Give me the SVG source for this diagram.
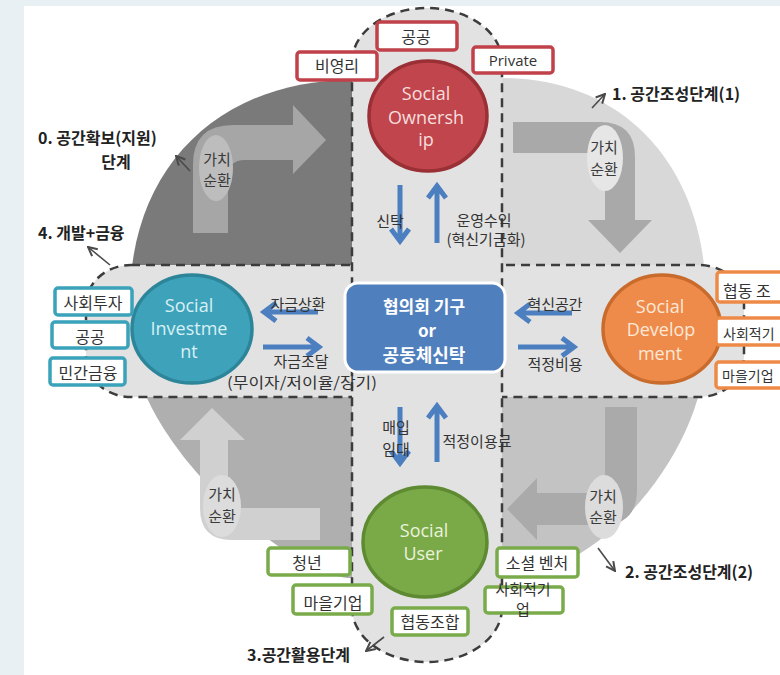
<svg xmlns="http://www.w3.org/2000/svg" width="780" height="675" viewBox="0 0 780 675">
<style>
.lbl{font-family:'Noto Sans CJK KR',sans-serif;font-size:15px;fill:#333;text-anchor:middle;}
.stage{font-family:'Noto Sans CJK KR',sans-serif;font-size:16px;font-weight:bold;fill:#222;}
.cyc{font-family:'Noto Sans CJK KR',sans-serif;font-size:15px;fill:#3a3a3a;text-anchor:middle;}
.box{fill:#fff;stroke-width:3.5;}
.red{stroke:#c0414a}
.teal{stroke:#3aa3bb}
.org{stroke:#ee8a48}
.grn{stroke:#7aab4a}
.bt{font-family:'Noto Sans CJK KR',sans-serif;font-size:16px;fill:#333;text-anchor:middle;}
.ct{font-family:'Open Sans','Noto Sans',sans-serif;font-size:18px;text-anchor:middle;}
.dash{fill:#e2e2e2;stroke:#3c3c3c;stroke-width:2.5;stroke-dasharray:9 6;}
.ba{fill:none;stroke:#4b7fc0;stroke-width:5;}
.sa{fill:none;stroke:#4a4a4a;stroke-width:1.6;marker-end:url(#sh);}
.hub{font-family:'Noto Sans CJK KR',sans-serif;font-weight:bold;fill:#fff;text-anchor:middle;}
</style>
<defs>
<marker id="sh" viewBox="0 0 10 10" refX="9" refY="5" markerWidth="7" markerHeight="7" orient="auto"><path d="M1,1 L9,5 L1,9" fill="none" stroke="#4a4a4a" stroke-width="1.8"/></marker>
</defs>
<rect x="0" y="0" width="780" height="675" fill="#e8f0f4"/>
<rect x="24" y="6" width="756" height="669" fill="#ffffff"/>

<g id="quadrants">
<path d="M427,331 L130,331 L130,300 C130,168 219,80 352,80 L427,80 Z" fill="#7a7a7a"/>
<path d="M427,331 L427,78 L502,78 C624,78 706,167 706,300 L706,331 Z" fill="#d8d8d8"/>
<path d="M427,331 L708,331 L706,345 C706,450 600,578 502,578 L427,578 Z" fill="#c3c3c3"/>
<path d="M427,331 L427,578 L352,578 C290,578 134,440 134,345 L134,331 Z" fill="#afafaf"/>
</g>

<g id="cycle-tl">
<path d="M193,233 L193,165 Q193,125 233,125 L293,125 L293,105 L326,140 L293,174 L293,160 L245,160 Q228,160 228,177 L228,233 Z" fill="#a6a6a6"/>
<ellipse cx="216" cy="168" rx="17" ry="33" fill="#bdbdbd"/>
<text class="cyc" x="217" y="165">가치</text>
<text class="cyc" x="217" y="186">순환</text>
</g>
<g id="cycle-tr">
<path d="M513,122 L600,122 Q635,122 635,157 L635,220 L652,220 L620,253 L588,220 L605,220 L605,165 Q605,153 593,153 L513,153 Z" fill="#a9a9a9"/>
<ellipse cx="605" cy="158" rx="18" ry="33" fill="#e6e6e6"/>
<text class="cyc" x="604" y="153">가치</text>
<text class="cyc" x="604" y="175">순환</text>
</g>
<g id="cycle-br">
<path d="M605,407 L637,407 L637,490 Q637,525 602,525 L537,525 L537,540 L507,509 L537,478 L537,493 L593,493 Q605,493 605,481 Z" fill="#aaaaaa"/>
<ellipse cx="604" cy="507" rx="19" ry="32" fill="#dcdcdc"/>
<text class="cyc" x="603" y="502">가치</text>
<text class="cyc" x="603" y="523">순환</text>
</g>
<g id="cycle-bl">
<path d="M212,408 L245,440 L228,440 L228,498 Q228,508 238,508 L320,508 L320,540 L232,540 Q200,540 200,508 L200,440 L180,440 Z" fill="#d0d0d0"/>
<ellipse cx="222" cy="506" rx="19" ry="31" fill="#dcdcdc"/>
<text class="cyc" x="222" y="500">가치</text>
<text class="cyc" x="222" y="522">순환</text>
</g>

<g id="bands">
<rect class="dash" x="86" y="265" width="658" height="132" rx="45" ry="40"/>
<path class="dash" d="M352,62 A75,54 0 0 1 502,62 L502,608 A75,54 0 0 1 352,608 Z"/>
</g>

<g id="connectors">
<path class="ba" d="M400,185 V240 M391,229 L400,241 L409,229"/>
<path class="ba" d="M437,243 V188 M428,198 L437,186 L446,198"/>
<path class="ba" d="M400,407 V461 M391,451 L400,463 L409,451"/>
<path class="ba" d="M437,462 V408 M428,418 L437,406 L446,418"/>
<path class="ba" d="M318,312 H266 M276,303 L264,312 L276,321"/>
<path class="ba" d="M263,347 H317 M307,338 L319,347 L307,356"/>
<path class="ba" d="M572,313 H520 M530,304 L518,313 L530,322"/>
<path class="ba" d="M518,347 H572 M562,338 L574,347 L562,356"/>
<path class="sa" d="M190,171 L176,156"/>
<path class="sa" d="M110,265 L88,247"/>
<path class="sa" d="M592,108 L605,94"/>
<path class="sa" d="M598,548 L615,571"/>
<path class="sa" d="M384,637 L366,651"/>
</g>

<g id="flow-labels">
<text class="lbl" x="390" y="227">신탁</text>
<text class="lbl" x="484" y="226">운영수익</text>
<text class="lbl" x="486" y="245">(혁신기금화)</text>
<text class="lbl" x="298" y="310">자금상환</text>
<text class="lbl" x="301" y="367">자금조달</text>
<text class="lbl" x="302" y="388" textLength="150" lengthAdjust="spacingAndGlyphs">(무이자/저이율/장기)</text>
<text class="lbl" x="555" y="310">혁신공간</text>
<text class="lbl" x="555" y="370">적정비용</text>
<text class="lbl" x="396" y="433">매입</text>
<text class="lbl" x="396" y="455">임대</text>
<text class="lbl" x="477" y="447">적정이용료</text>
</g>

<g id="social-ownership">
<ellipse cx="428" cy="116" rx="59" ry="55" fill="#c1454c" stroke="#9b2f36" stroke-width="3.5"/>
<text class="ct" x="426" y="100" fill="#f7dede">Social</text>
<text class="ct" x="426" y="124" fill="#f7dede">Ownersh</text>
<text class="ct" x="426" y="146" fill="#f7dede">ip</text>
<rect class="box red" x="377" y="22" width="80" height="28" rx="3"/>
<text class="bt" x="416" y="43">공공</text>
<rect class="box red" x="297" y="52" width="80" height="28" rx="3"/>
<text class="bt" x="337" y="72">비영리</text>
<rect class="box red" x="473" y="47" width="80" height="26" rx="3"/>
<text class="bt" x="513" y="66" style="font-family:'Open Sans','Noto Sans',sans-serif;font-size:15px">Private</text>
</g>

<g id="social-investment">
<ellipse cx="192" cy="329" rx="60" ry="54" fill="#3ea3ba" stroke="#2d8599" stroke-width="3.5"/>
<text class="ct" x="189" y="312" fill="#d8f0f5">Social</text>
<text class="ct" x="189" y="335" fill="#d8f0f5">Investme</text>
<text class="ct" x="189" y="358" fill="#d8f0f5">nt</text>
<rect class="box teal" x="55" y="288" width="77" height="27" rx="3"/>
<text class="bt" x="93" y="309">사회투자</text>
<rect class="box teal" x="52" y="322" width="76" height="26" rx="3"/>
<text class="bt" x="90" y="343">공공</text>
<rect class="box teal" x="50" y="358" width="75" height="27" rx="3"/>
<text class="bt" x="88" y="379">민간금융</text>
</g>

<g id="hub">
<rect x="345" y="283" width="160" height="89" rx="13" fill="#4f80bd" stroke="#ffffff" stroke-width="3"/>
<text class="hub" x="424" y="313" font-size="17">협의회 기구</text>
<text class="hub" x="427" y="337" font-size="17">or</text>
<text class="hub" x="424" y="362" font-size="18">공동체신탁</text>
</g>

<g id="social-development">
<ellipse cx="662" cy="329" rx="59" ry="54" fill="#ef8b4a" stroke="#c96b2c" stroke-width="3.5"/>
<text class="ct" x="660" y="313" fill="#fde8d8">Social</text>
<text class="ct" x="661" y="336" fill="#fde8d8">Develop</text>
<text class="ct" x="660" y="360" fill="#fde8d8">ment</text>
<rect class="box org" x="717" y="272" width="80" height="30" rx="3"/>
<text class="bt" x="723" y="297" style="text-anchor:start">협동 조</text>
<rect class="box org" x="716" y="318" width="80" height="27" rx="3"/>
<text class="bt" x="723" y="339" style="text-anchor:start;font-size:14px">사회적기</text>
<rect class="box org" x="716" y="362" width="80" height="26" rx="3"/>
<text class="bt" x="722" y="381" style="text-anchor:start;font-size:14px">마을기업</text>
</g>

<g id="social-user">
<ellipse cx="425" cy="542" rx="62" ry="55" fill="#7aa948" stroke="#5e8a32" stroke-width="3.5"/>
<text class="ct" x="424" y="537" fill="#eaf3dc">Social</text>
<text class="ct" x="423" y="560" fill="#eaf3dc">User</text>
<rect class="box grn" x="268" y="548" width="82" height="27" rx="3"/>
<text class="bt" x="307" y="569">청년</text>
<rect class="box grn" x="293" y="585" width="79" height="29" rx="3"/>
<text class="bt" x="333" y="609">마을기업</text>
<rect class="box grn" x="392" y="608" width="76" height="27" rx="3"/>
<text class="bt" x="430" y="628">협동조합</text>
<rect class="box grn" x="497" y="548" width="81" height="29" rx="3"/>
<text class="bt" x="537" y="569">소셜 벤처</text>
<rect class="box grn" x="485" y="587" width="78" height="26" rx="3"/>
<text class="bt" x="523" y="595" style="font-size:15px">사회적기</text>
<text class="bt" x="523" y="615" style="font-size:15px">업</text>
</g>

<g id="stage-labels">
<text class="stage" x="38" y="144">0. 공간확보(지원)</text>
<text class="stage" x="116" y="168" text-anchor="middle">단계</text>
<text class="stage" x="38" y="239">4. 개발+금융</text>
<text class="stage" x="612" y="100">1. 공간조성단계(1)</text>
<text class="stage" x="625" y="578">2. 공간조성단계(2)</text>
<text class="stage" x="247" y="661">3.공간활용단계</text>
</g>
</svg>
